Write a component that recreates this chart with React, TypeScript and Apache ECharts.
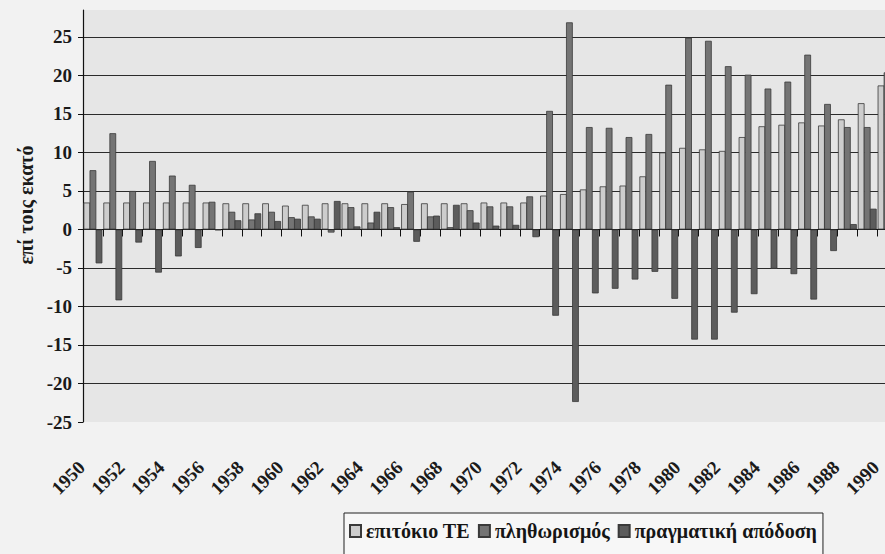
import React, { useEffect, useRef } from "react";
import * as echarts from "echarts";

const years = [
  "1950", "1951", "1952", "1953", "1954", "1955", "1956", "1957", "1958", "1959",
  "1960", "1961", "1962", "1963", "1964", "1965", "1966", "1967", "1968", "1969",
  "1970", "1971", "1972", "1973", "1974", "1975", "1976", "1977", "1978", "1979",
  "1980", "1981", "1982", "1983", "1984", "1985", "1986", "1987", "1988", "1989",
  "1990",
];

// επιτόκιο ΤΕ
const interestRate = [
  3.5, 3.5, 3.5, 3.5, 3.5, 3.5, 3.5, 3.4, 3.4, 3.4,
  3.1, 3.2, 3.4, 3.4, 3.4, 3.4, 3.3, 3.4, 3.4, 3.4,
  3.5, 3.5, 3.5, 4.4, 4.6, 5.2, 5.6, 5.7, 6.9, 10.0,
  10.6, 10.4, 10.2, 12.0, 13.4, 13.6, 13.9, 13.5, 14.3, 16.4,
  18.7,
];

// πληθωρισμός
const inflation = [
  7.7, 12.5, 5.0, 8.9, 7.0, 5.8, 3.6, 2.3, 1.3, 2.3,
  1.6, 1.7, -0.4, 2.9, 0.9, 2.9, 4.9, 1.7, 0.3, 2.5,
  3.0, 3.0, 4.3, 15.4, 26.9, 13.3, 13.2, 12.0, 12.4, 18.8,
  24.9, 24.5, 21.2, 20.1, 18.3, 19.2, 22.7, 16.3, 13.3, 13.3,
  20.4,
];

// πραγματική απόδοση
const realReturn = [
  -4.4, -9.2, -1.7, -5.6, -3.5, -2.4, -0.1, 1.2, 2.1, 1.1,
  1.4, 1.4, 3.7, 0.4, 2.3, 0.3, -1.6, 1.8, 3.2, 0.9,
  0.5, 0.6, -1.0, -11.2, -22.4, -8.3, -7.7, -6.5, -5.5, -9.0,
  -14.3, -14.3, -10.8, -8.4, -5.1, -5.8, -9.1, -2.8, 0.7, 2.7,
  -1.7,
];

const seriesNames = ["επιτόκιο ΤΕ", "πληθωρισμός", "πραγματική απόδοση"];
const yAxisTitle = "επί τοις εκατό";

const FONT = "Liberation Serif, DejaVu Serif, serif";

export default function App() {
  const ref = useRef<HTMLDivElement>(null);

  useEffect(() => {
    if (!ref.current) return;
    const chart = echarts.init(ref.current, undefined, { renderer: "svg" });
    const barBase = {
      type: "bar" as const,
      barGap: "-10%",
      barCategoryGap: "5%",
      xAxisIndex: 0,
      yAxisIndex: 0,
    };
    chart.setOption({
      animation: false,
      backgroundColor: "#f2f2f2",
      grid: {
        left: 83,
        right: 0,
        top: 10,
        bottom: 132,
        show: true,
        backgroundColor: "#e6e6e6",
        borderWidth: 0,
      },
      legend: {
        left: 344,
        top: 513,
        orient: "horizontal",
        data: seriesNames,
        borderColor: "#222",
        borderWidth: 1,
        backgroundColor: "#f7f7f7",
        padding: [8, 6, 16, 5],
        itemWidth: 11,
        itemHeight: 12,
        itemGap: 8,
        icon: "rect",
        textStyle: {
          fontFamily: FONT,
          fontWeight: "bold",
          fontSize: 20,
          color: "#151515",
        },
      },
      xAxis: [
        {
          type: "category",
          data: years,
          axisLine: { show: true, onZero: true, lineStyle: { color: "#111", width: 1.2 } },
          axisTick: { show: true, interval: 0, length: 7, lineStyle: { color: "#111" } },
          axisLabel: { show: false },
          splitLine: { show: false },
        },
        {
          type: "category",
          data: years,
          position: "bottom",
          axisLine: { show: false, onZero: false },
          axisTick: { show: false },
          splitLine: { show: false },
          axisLabel: {
            interval: 1,
            rotate: 45,
            margin: 31,
            padding: [0, 16, 0, 0],
            fontFamily: FONT,
            fontWeight: "bold",
            fontSize: 19,
            color: "#1a1a1a",
          },
        },
      ],
      yAxis: {
        type: "value",
        min: -25,
        max: 28.5,
        interval: 5,
        axisLine: { show: true, lineStyle: { color: "#111", width: 1.2 } },
        axisTick: { show: true, length: 5, lineStyle: { color: "#111" } },
        axisLabel: {
          showMaxLabel: false,
          margin: 11,
          fontFamily: FONT,
          fontWeight: "bold",
          fontSize: 19,
          color: "#1a1a1a",
        },
        splitLine: {
          show: true,
          showMinLine: false,
          showMaxLine: false,
          lineStyle: { color: "#2b2b2b", width: 1 },
        },
      },
      graphic: [
        {
          type: "text",
          x: 26,
          y: 205,
          rotation: Math.PI / 2,
          style: {
            text: yAxisTitle,
            font: `bold 20px ${FONT}`,
            fill: "#1a1a1a",
            align: "center",
            verticalAlign: "middle",
            textAlign: "center",
            textVerticalAlign: "middle",
          },
        },
      ],
      series: [
        {
          ...barBase,
          name: seriesNames[0],
          data: interestRate,
          itemStyle: { color: "#cdcdcd", borderColor: "#3a3a3a", borderWidth: 0.8 },
        },
        {
          ...barBase,
          name: seriesNames[1],
          data: inflation,
          itemStyle: { color: "#747474", borderColor: "#3a3a3a", borderWidth: 0.8 },
        },
        {
          ...barBase,
          name: seriesNames[2],
          data: realReturn,
          itemStyle: { color: "#5c5c5c", borderColor: "#3a3a3a", borderWidth: 0.8 },
        },
      ],
    });
    return () => chart.dispose();
  }, []);

  return (
    <div
      style={{
        position: "fixed",
        left: 0,
        top: 0,
        width: 885,
        height: 554,
        overflow: "hidden",
        background: "#f2f2f2",
      }}
    >
      <div ref={ref} style={{ width: 897, height: 554 }} />
    </div>
  );
}
